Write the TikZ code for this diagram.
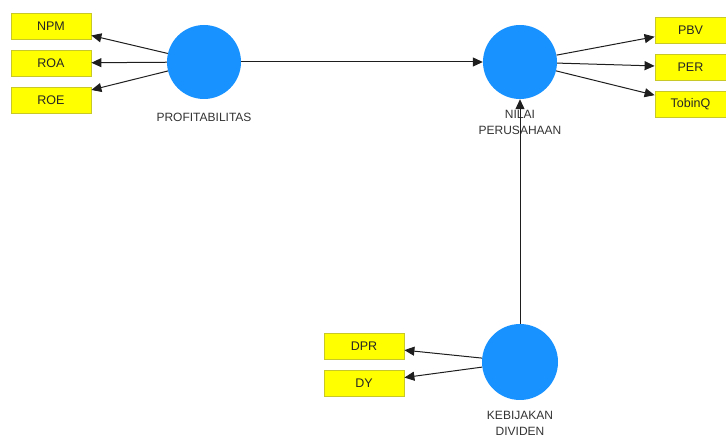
\documentclass[tikz,border=0pt]{standalone}
\usepackage{fontspec}
\setmainfont{Liberation Sans}
\usetikzlibrary{arrows.meta}
\definecolor{latentblue}{RGB}{24,146,255}
\definecolor{indyellow}{RGB}{255,255,0}
\definecolor{indborder}{RGB}{200,200,40}
\definecolor{pathgray}{RGB}{30,30,30}
\tikzset{
  x=1pt, y=-1pt,
  latent/.style={circle, fill=latentblue, minimum size=74pt, inner sep=0pt},
  indicator/.style={rectangle, fill=indyellow, draw=indborder, line width=0.8pt,
    minimum width=80pt, minimum height=26pt, inner sep=0pt,
    font=\fontsize{12.5}{14}\selectfont, text=black!85},
  caption/.style={align=center, font=\fontsize{12}{16}\selectfont, text=black!80,
    inner sep=1pt},
  path/.style={draw=pathgray, line width=1pt,
    -{Triangle[length=10pt,width=9pt]}}
}
\begin{document}
\begin{tikzpicture}
\useasboundingbox (0,0) rectangle (726,438);
% latent variables
\node[latent] (prof) at (204,62) {};
\node[latent] (nilai) at (520,62) {};
\node[latent, minimum size=76pt] (kebij) at (520,362) {};
% captions
\node[caption] (lprof) at (204,117) {PROFITABILITAS};
\node[caption] (lnilai) at (520,122.5) {NILAI\\PERUSAHAAN};
\node[caption] (lkebij) at (520,423) {KEBIJAKAN\\DIVIDEN};
% indicators
\node[indicator] (npm) at (51,26) {NPM};
\node[indicator] (roa) at (51,63) {ROA};
\node[indicator] (roe) at (51,100) {ROE};
\node[indicator, minimum width=71pt] (pbv) at (690.5,30) {PBV};
\node[indicator, minimum width=71pt] (per) at (690.5,67) {PER};
\node[indicator, minimum width=71pt] (tobin) at (690.5,104) {TobinQ};
\node[indicator] (dpr) at (364,346) {DPR};
\node[indicator] (dy) at (364,383) {DY};
% paths
\draw[path] (prof) -- (npm);
\draw[path] (prof) -- (roa);
\draw[path] (prof) -- (roe);
\draw[path] (nilai) -- (pbv);
\draw[path] (nilai) -- (per);
\draw[path] (nilai) -- (tobin);
\draw[path] (kebij) -- (dpr);
\draw[path] (kebij) -- (dy);
\draw[path] (prof) -- (nilai);
\draw[path] (kebij) -- (nilai);
\end{tikzpicture}
\end{document}
